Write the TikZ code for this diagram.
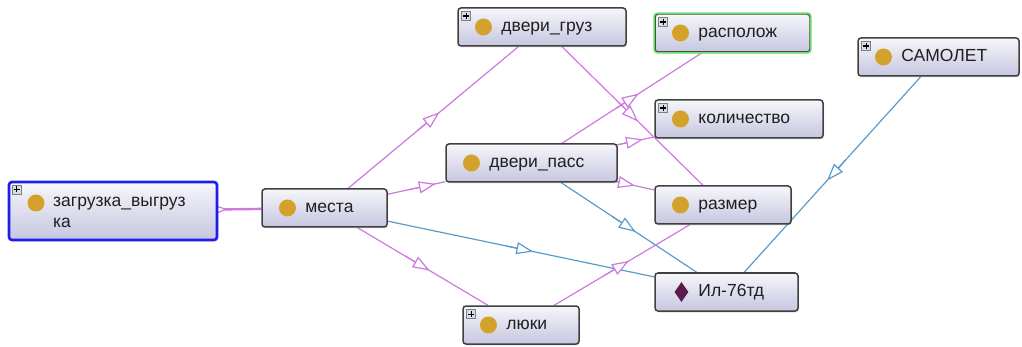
\documentclass[tikz,border=0pt]{standalone}
\usepackage{fontspec}
\setmainfont{Liberation Sans}
\usetikzlibrary{calc, positioning, arrows.meta, shapes.geometric, shadows}
\pgfdeclarelayer{background}
\pgfsetlayers{background,main}
\definecolor{edgepurple}{HTML}{CC7ADC}
\definecolor{edgeblue}{HTML}{5B9BC8}
\definecolor{dotgold}{HTML}{D4A22C}
\definecolor{gemviolet}{HTML}{5A1A4E}
\definecolor{boxtop}{HTML}{F6F6FB}
\definecolor{boxbottom}{HTML}{C6C6E0}
\definecolor{boxline}{HTML}{404040}
\definecolor{selblue}{HTML}{1E1EE8}
\definecolor{selgreen}{HTML}{6ADC6A}
\definecolor{plusfill}{HTML}{D6DCE8}

\tikzset{
  cls/.style={rectangle, rounded corners=3pt, draw=boxline, line width=1.5pt,
    top color=boxtop, bottom color=boxbottom, minimum height=38pt, inner sep=0pt,
    drop shadow={shadow xshift=1pt, shadow yshift=-1.5pt, opacity=0.25}},
  dot/.style={circle, fill=dotgold, minimum size=17pt, inner sep=0pt},
  gem/.style={diamond, fill=gemviolet, minimum width=14pt, minimum height=20pt, inner sep=0pt},
  lbl/.style={inner sep=0pt, font=\fontsize{17.5pt}{21pt}\selectfont, text=black!88},
  lblline/.style={lbl, text height=9pt, text depth=0pt},
  plusbox/.style={rectangle, draw=gray, fill=plusfill, line width=0.6pt,
    minimum size=9pt, inner sep=0pt,
    path picture={\draw[black, line width=1.1pt]
      ([xshift=-3pt]path picture bounding box.center) -- ([xshift=3pt]path picture bounding box.center)
      ([yshift=-3pt]path picture bounding box.center) -- ([yshift=3pt]path picture bounding box.center);}},
  link/.style={line width=1.2pt},
  tip/.style={line width=1.2pt, -{Triangle[length=17pt, width=12pt, fill=white]}}
}

\begin{document}
\begin{tikzpicture}[x=1pt, y=-1pt, >=stealth]
  \useasboundingbox (0,0) rectangle (1022,347);
  % classes
  \foreach \nm/\cx/\cy/\w/\txt/\p in {
      mesta/324.5/208/125/места/0,
      dgruz/542/27/168/двери\_груз/1,
      raspol/732.5/33/155/располож/1,
      kolvo/739/119/168/количество/1,
      dpass/531.5/163/171/двери\_пасс/0,
      razmer/723/205/136/размер/0,
      luki/521/325/116/люки/1,
      samolet/938.5/57/161/САМОЛЕТ/1}{
    \node[cls, minimum width=\w pt] (\nm) at (\cx,\cy) {};
    \node[dot, right=17.5pt of \nm.west] (\nm-dot) {};
    \node[lblline, right=44pt of \nm.west] (\nm-txt) {\txt};
    \ifnum\p=1 \node[plusbox, below right=4pt and 4pt of \nm.north west] (\nm-plus) {};\fi
  }
  % selected class (green frame)
  \draw[selgreen, line width=1.6pt, rounded corners=3pt] (raspol.north west) rectangle (raspol.south east);
  % root class, two lines
  \node[cls, draw=selblue, line width=2.6pt, minimum width=208pt, minimum height=58pt] (zagr) at (113,211) {};
  \node[dot] (zagr-dot) at (36,203) {};
  \node[lbl, anchor=base west] (zagr-txt) at (53,207)
    {\vtop{\hbox{загрузка\_выгруз}\hbox{ка}}};
  \node[plusbox, below right=4pt and 4pt of zagr.north west] (zagr-plus) {};
  % individual
  \node[cls, minimum width=143pt] (il) at (726.5,292) {};
  \node[gem, right=20pt of il.west] (il-gem) {};
  \node[lblline, right=44pt of il.west] (il-txt) {Ил-76тд};
  % connectors
  \begin{pgfonlayer}{background}
    \draw[edgepurple, line width=2.4pt] (zagr) -- (mesta);
    \coordinate (zm) at ($(zagr)!0.5!(mesta)$);
    \draw[tip, edgepurple] ($(zm)!-20pt!(mesta)$) -- ($(zm)!9pt!(mesta)$);
    \foreach \a/\b/\c in {
        mesta/dgruz/edgepurple, mesta/dpass/edgepurple, mesta/luki/edgepurple,
        mesta/il/edgeblue, dgruz/razmer/edgepurple, dpass/raspol/edgepurple,
        dpass/kolvo/edgepurple, dpass/razmer/edgepurple, dpass/il/edgeblue,
        luki/razmer/edgepurple, samolet/il/edgeblue}{
      \draw[link, \c] (\a) -- (\b);
      \coordinate (mid) at ($(\a)!0.5!(\b)$);
      \draw[tip, \c] ($(mid)!-20pt!(\b)$) -- ($(mid)!8pt!(\b)$);
    }
  \end{pgfonlayer}
\end{tikzpicture}
\end{document}
